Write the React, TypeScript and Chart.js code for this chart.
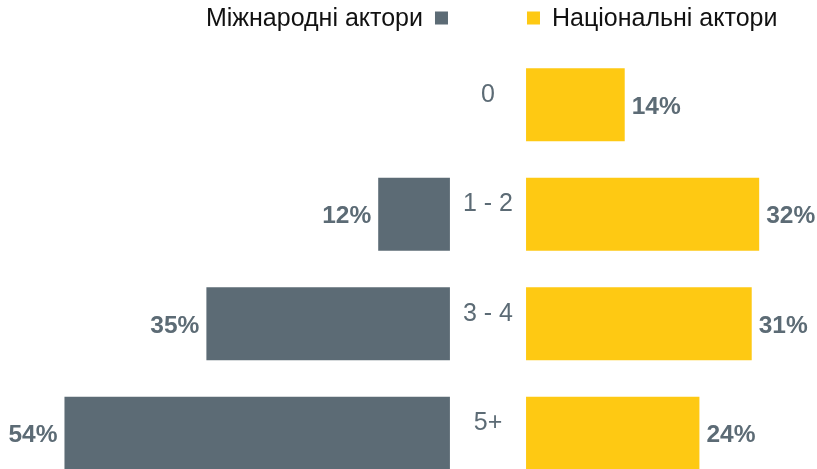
import React, { useEffect, useRef } from "react";
import { Chart, registerables } from "chart.js";

Chart.register(...registerables);

const categories = ["0", "1 - 2", "3 - 4", "5+"];
const internationalValues = [0, 12, 35, 54];
const nationalValues = [14, 32, 31, 24];
const seriesNames = ["Міжнародні актори", "Національні актори"];

const GREY = "#5c6b75";
const YELLOW = "#fec913";
const TEXT_GREY = "#5c6b75";
const FONT = "'Liberation Sans', Arial, sans-serif";

// layout constants (axis units)
const HALF_GAP = 3.5; // distance of each side's zero from the centre
const LEFT_INSET = 2.4; // left bars start this far from their zero
const RIGHT_INSET = 0.79; // right bars start this far from their zero

export default function App() {
  const ref = useRef<HTMLCanvasElement | null>(null);

  useEffect(() => {
    const canvas = ref.current!;
    const leftData = internationalValues.map((v) =>
      v > LEFT_INSET ? [-(HALF_GAP + v), -(HALF_GAP + LEFT_INSET)] : null
    );
    const rightData = nationalValues.map((v) =>
      v > RIGHT_INSET ? [HALF_GAP + RIGHT_INSET, HALF_GAP + v] : null
    );

    const midX = (chart: any) => {
      const xs = chart.scales.x;
      return (
        (xs.getPixelForValue(-(HALF_GAP + LEFT_INSET)) +
          xs.getPixelForValue(HALF_GAP + RIGHT_INSET)) /
        2
      );
    };

    const labelsPlugin = {
      id: "customLabels",
      afterDatasetsDraw(chart: any) {
        const ctx = chart.ctx;
        ctx.save();
        // value labels
        ctx.font = `bold 24.5px ${FONT}`;
        ctx.fillStyle = TEXT_GREY;
        ctx.textBaseline = "middle";
        chart.data.datasets.forEach((ds: any, di: number) => {
          const meta = chart.getDatasetMeta(di);
          const values = di === 0 ? internationalValues : nationalValues;
          meta.data.forEach((bar: any, i: number) => {
            if (ds.data[i] == null) return;
            const left = Math.min(bar.x, bar.base);
            const right = Math.max(bar.x, bar.base);
            const txt = values[i] + "%";
            if (di === 0) {
              ctx.textAlign = "right";
              ctx.fillText(txt, left - 7, bar.y + 2);
            } else {
              ctx.textAlign = "left";
              ctx.fillText(txt, right + 7, bar.y + 2);
            }
          });
        });
        // category labels
        const mx = midX(chart);
        ctx.font = `25px ${FONT}`;
        ctx.textAlign = "center";
        ctx.fillStyle = TEXT_GREY;
        categories.forEach((c, i) => {
          const y = chart.scales.y.getPixelForValue(i) - 10;
          ctx.fillText(c, mx, y);
        });
        // legend
        const ly = 18;
        ctx.font = `25px ${FONT}`;
        ctx.fillStyle = GREY;
        ctx.fillRect(mx - 53, ly - 6.5, 13, 13);
        ctx.fillStyle = YELLOW;
        ctx.fillRect(mx + 39, ly - 6.5, 13, 13);
        ctx.fillStyle = "#111111";
        ctx.textAlign = "right";
        ctx.fillText(seriesNames[0], mx - 65, ly + 1);
        ctx.textAlign = "left";
        ctx.fillText(seriesNames[1], mx + 64, ly + 1);
        ctx.restore();
      },
    };

    const chart = new Chart(canvas, {
      type: "bar",
      data: {
        labels: categories,
        datasets: [
          {
            label: seriesNames[0],
            data: leftData as any,
            backgroundColor: GREY,
            grouped: false,
            categoryPercentage: 1,
            barPercentage: 0.667,
          } as any,
          {
            label: seriesNames[1],
            data: rightData as any,
            backgroundColor: YELLOW,
            grouped: false,
            categoryPercentage: 1,
            barPercentage: 0.667,
          } as any,
        ],
      },
      options: {
        indexAxis: "y",
        responsive: false,
        animation: false,
        layout: { padding: { top: 50, left: 0, right: 0, bottom: 0 } },
        plugins: { legend: { display: false }, tooltip: { enabled: false } },
        scales: {
          x: { type: "linear", min: -66.13, max: 43.24, display: false },
          y: { display: false, stacked: true },
        },
      },
      plugins: [labelsPlugin],
    });
    return () => chart.destroy();
  }, []);

  return (
    <div
      style={{
        position: "absolute",
        left: 0,
        top: 0,
        width: 817,
        height: 469,
        overflow: "hidden",
        background: "#ffffff",
      }}
    >
      <canvas ref={ref} width={817} height={488} style={{ display: "block" }} />
    </div>
  );
}
